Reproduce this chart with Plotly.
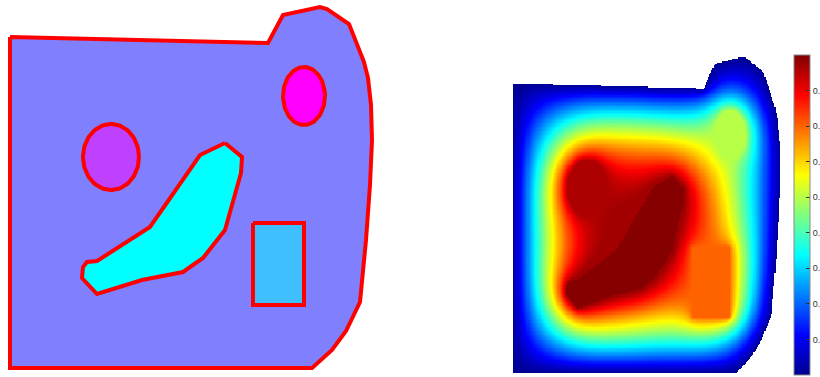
import numpy as np
import plotly.graph_objects as go

# ---- geometry (shared by both panels, pixel-like units, y downward) ----
outer_x = [10, 268, 283, 320, 327, 349, 364, 368, 371, 372, 370, 366, 360, 346, 332, 312, 10]
outer_y = [37, 43, 15, 7, 9, 24, 62, 78, 105, 140, 185, 240, 302, 331, 350, 368, 368]

blob_x = [225, 242, 241, 225, 203, 183, 142, 97, 82, 83, 87, 97, 150, 200]
blob_y = [143, 157, 173, 230, 258, 272, 280, 294, 278, 267, 262, 261, 227, 155]

ell_a = dict(cx=111, cy=157, rx=28, ry=33)   # left ellipse
ell_b = dict(cx=304, cy=96, rx=21, ry=29)    # upper-right ellipse
rect = dict(x0=253, x1=304, y0=223, y1=305)

# subdomain fill colours (left panel)
col_outer = "#8080FF"
col_ell_a = "#BF40FF"
col_ell_b = "#FF00FF"
col_blob = "#00FFFF"
col_rect = "#40BFFF"
edge_col = "#FF0000"

# fixed values of the subdomains and the field parameters (right panel)
val_ell_a = 0.86
val_ell_b = 0.50
val_blob = 0.895
val_rect = 0.70
init_level = 1.10
plateau = 0.87
diff_time = 2500.0
cb_ticks = [0, 0.1, 0.2, 0.3, 0.4, 0.5, 0.6, 0.7, 0.8]
cb_max = 0.9


def ellipse_xy(e, n=120):
    t = np.linspace(0, 2 * np.pi, n)
    return e["cx"] + e["rx"] * np.cos(t), e["cy"] + e["ry"] * np.sin(t)


def in_poly(px, py, X, Y):
    px = np.asarray(px, float)
    py = np.asarray(py, float)
    res = np.zeros(X.shape, bool)
    j = len(px) - 1
    for i in range(len(px)):
        xi, yi, xj, yj = px[i], py[i], px[j], py[j]
        cond = ((yi > Y) != (yj > Y)) & (X < (xj - xi) * (Y - yi) / (yj - yi + 1e-12) + xi)
        res ^= cond
        j = i
    return res


# ---- field: heat diffusion with fixed subdomains and zero outer boundary ----
h = 1.5
xs = np.arange(10 + h / 2, 372, h)
ys = np.arange(6 + h / 2, 368, h)
X, Y = np.meshgrid(xs, ys)
dom = in_poly(outer_x, outer_y, X, Y)
m_blob = in_poly(blob_x, blob_y, X, Y)
m_a = ((X - ell_a["cx"]) / ell_a["rx"]) ** 2 + ((Y - ell_a["cy"]) / ell_a["ry"]) ** 2 <= 1
m_b = ((X - ell_b["cx"]) / ell_b["rx"]) ** 2 + ((Y - ell_b["cy"]) / ell_b["ry"]) ** 2 <= 1
m_r = (X >= rect["x0"]) & (X <= rect["x1"]) & (Y >= rect["y0"]) & (Y <= rect["y1"])

fixed = m_blob | m_a | m_b | m_r
fixed_val = np.zeros_like(X)
fixed_val[m_blob] = val_blob
fixed_val[m_a] = val_ell_a
fixed_val[m_b] = val_ell_b
fixed_val[m_r] = val_rect

ny, nx = X.shape
U = np.zeros((ny + 2, nx + 2))
core = U[1:-1, 1:-1]
core[:] = np.where(dom, init_level, 0.0)
core[fixed] = fixed_val[fixed]
free_out = ~dom
dt = 0.245
steps = int(diff_time / (h * h) / dt)
lap = np.empty_like(core)
for _ in range(steps):
    np.add(U[2:, 1:-1], U[:-2, 1:-1], out=lap)
    lap += U[1:-1, 2:]
    lap += U[1:-1, :-2]
    lap -= 4 * core
    core += dt * lap
    core[free_out] = 0.0
    core[fixed] = fixed_val[fixed]

Z = np.minimum(core.copy(), plateau)
Z[fixed] = fixed_val[fixed]
Z[~dom] = np.nan

jet = [[0.0, "rgb(0,0,143)"], [0.125, "rgb(0,0,255)"], [0.375, "rgb(0,255,255)"],
       [0.625, "rgb(255,255,0)"], [0.875, "rgb(255,0,0)"], [1.0, "rgb(128,0,0)"]]

fig = go.Figure()

# ---- left panel: subdomains ----
def patch(x, y, fill):
    x = list(x) + [x[0]]
    y = list(y) + [y[0]]
    fig.add_trace(go.Scatter(x=x, y=y, mode="lines", fill="toself", fillcolor=fill,
                             line=dict(color=edge_col, width=4), hoverinfo="skip",
                             showlegend=False, xaxis="x", yaxis="y"))

patch(outer_x, outer_y, col_outer)
ex, ey = ellipse_xy(ell_a)
patch(ex, ey, col_ell_a)
ex, ey = ellipse_xy(ell_b)
patch(ex, ey, col_ell_b)
patch(blob_x, blob_y, col_blob)
patch([rect["x0"], rect["x1"], rect["x1"], rect["x0"]],
      [rect["y0"], rect["y0"], rect["y1"], rect["y1"]], col_rect)

# ---- right panel: field ----
fig.add_trace(go.Heatmap(
    x=xs, y=ys, z=Z, colorscale=jet, zmin=0, zmax=cb_max, hoverinfo="skip",
    xaxis="x2", yaxis="y2",
    colorbar=dict(x=794 / 820, xanchor="left", xpad=0, ypad=0,
                  y=2 / 377, yanchor="bottom", len=320 / 377, lenmode="fraction",
                  thickness=16, thicknessmode="pixels",
                  outlinewidth=1, outlinecolor="#8a8a8a",
                  tickvals=cb_ticks, ticktext=[f"{v:g}" for v in cb_ticks],
                  ticks="inside", ticklen=4, tickcolor="#333333",
                  tickfont=dict(family="Liberation Sans", size=9, color="#333333")),
))

fig.update_layout(
    width=820, height=377,
    margin=dict(l=0, r=0, t=0, b=0, autoexpand=False),
    paper_bgcolor="white", plot_bgcolor="rgba(0,0,0,0)",
    xaxis=dict(domain=[0, 390 / 820], range=[0, 390], visible=False),
    yaxis=dict(domain=[0, 1], range=[377, 0], visible=False),
    xaxis2=dict(domain=[513 / 820, 780 / 820], range=[10, 372], visible=False),
    yaxis2=dict(domain=[1 - 373 / 377, 1 - 56 / 377], range=[368, 6], visible=False),
)

fig.write_html("out.html")
